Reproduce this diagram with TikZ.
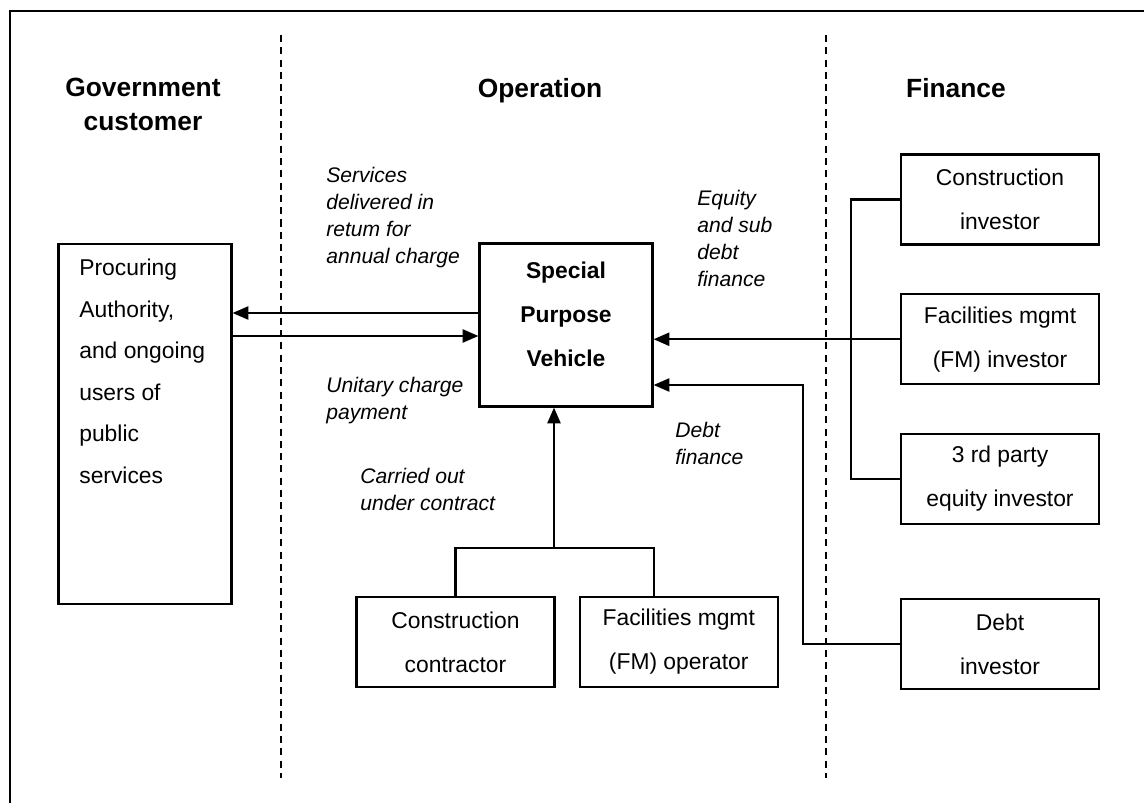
\documentclass[tikz,border=0pt]{standalone}
\usepackage{fontspec}
\setmainfont{Liberation Sans}
\usetikzlibrary{arrows.meta, positioning, calc}

\begin{document}
\begin{tikzpicture}[
    x=0.02cm, y=-0.02cm,
    node distance=0.95cm,
    box/.style={rectangle, draw, line width=1.3pt, minimum width=3.96cm, minimum height=1.8cm, align=center, inner sep=0pt, font=\fontsize{13}{25}\selectfont},
    hdr/.style={anchor=north, align=center, inner sep=0pt, font=\fontsize{15}{19}\selectfont\bfseries},
    note/.style={anchor=north west, align=left, inner sep=0pt, font=\fontsize{12}{15.3}\selectfont\itshape},
    arrow/.style={-{Triangle[length=9pt, width=7.5pt]}, line width=1.2pt},
    link/.style={line width=1.2pt},
    divider/.style={line width=1.2pt, dash pattern=on 4pt off 3pt},
    frame/.style={line width=1.3pt}
]
    \useasboundingbox (0,0) rectangle (1144,803);
    \draw[frame] (1144,11) -- (10,11) -- (10,803);

    % column dividers and headings
    \draw[divider] (281,35) -- (281,778);
    \draw[divider] (826,35) -- (826,778);
    \node[hdr] (govhead) at (143,78) {Government\\customer};
    \node[hdr] (ophead) at (540,78) {Operation};
    \node[hdr] (finhead) at (956,78) {Finance};

    % government side
    \node[box, minimum width=3.46cm, minimum height=7.2cm] (auth) at (145,424) {};
    \node[anchor=north west, align=left, inner sep=0pt, font=\fontsize{13}{23.6}\selectfont] (authtext) at (79,259)
        {Procuring\\Authority,\\and ongoing\\users of\\public\\services};

    % special purpose vehicle
    \node[box, minimum width=3.46cm, minimum height=3.26cm] (spv) at (566,325) {};
    \node[anchor=north, align=center, inner sep=0pt, font=\fontsize{13}{25}\selectfont\bfseries] (spvtext) at (566,262)
        {Special\\Purpose\\Vehicle};

    % finance side
    \node[box] (ci) at (1000,199.5) {Construction\\investor};
    \node[box, below=of ci] (fmi) {Facilities mgmt\\(FM) investor};
    \node[box, below=of fmi] (tpi) {3 rd party\\equity investor};
    \node[box, below=1.46cm of tpi] (di) {Debt\\investor};

    % subcontractors
    \node[box] (cc) at (455.5,642) {Construction\\contractor};
    \node[box, right=0.46cm of cc] (fmo) {Facilities mgmt\\(FM) operator};

    % flow labels
    \node[note] (svc) at (326,167) {Services\\delivered in\\retum for\\annual charge};
    \node[note] (pay) at (326,377) {Unitary charge\\payment};
    \node[note] (eq) at (697,190) {Equity\\and sub\\debt\\finance};
    \node[note] (dbt) at (675,422) {Debt\\finance};
    \node[note] (ctr) at (360,468) {Carried out\\under contract};

    % connectors
    \draw[arrow] (spv.west |- 0,313) -- (auth.east |- 0,313);
    \draw[arrow] (auth.east |- 0,336) -- (spv.west |- 0,336);

    \draw[link] (ci.west) -- ++(-49,0) |- (tpi.west);
    \draw[arrow] (fmi.west) -- (fmi.west -| spv.east);

    \coordinate (bend) at (803,385);
    \draw[arrow] (di.west) -| (bend) -- (bend -| spv.east);

    \coordinate (joint) at (554,548);
    \draw[link] (cc.north) |- (joint) -| ($(fmo.north west)+(75,0)$);
    \draw[arrow] (joint) -- (joint |- spv.south);
\end{tikzpicture}
\end{document}
